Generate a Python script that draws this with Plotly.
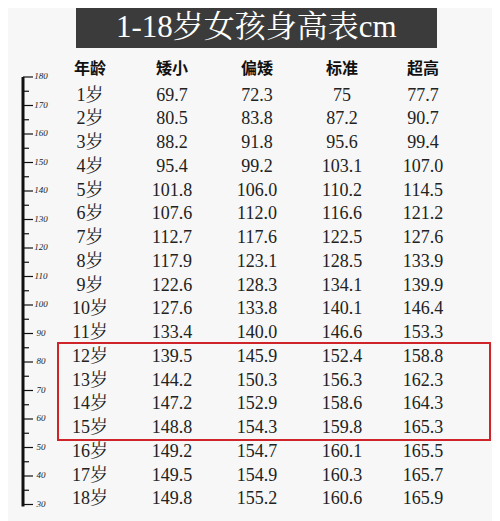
import plotly.graph_objects as go

title = "1-18岁女孩身高表cm"
headers = ["年龄", "矮小", "偏矮", "标准", "超高"]
ages = [f"{i}岁" for i in range(1, 19)]
short = ["69.7", "80.5", "88.2", "95.4", "101.8", "107.6", "112.7", "117.9", "122.6",
         "127.6", "133.4", "139.5", "144.2", "147.2", "148.8", "149.2", "149.5", "149.8"]
below = ["72.3", "83.8", "91.8", "99.2", "106.0", "112.0", "117.6", "123.1", "128.3",
         "133.8", "140.0", "145.9", "150.3", "152.9", "154.3", "154.7", "154.9", "155.2"]
standard = ["75", "87.2", "95.6", "103.1", "110.2", "116.6", "122.5", "128.5", "134.1",
            "140.1", "146.6", "152.4", "156.3", "158.6", "159.8", "160.1", "160.3", "160.6"]
tall = ["77.7", "90.7", "99.4", "107.0", "114.5", "121.2", "127.6", "133.9", "139.9",
        "146.4", "153.3", "158.8", "162.3", "164.3", "165.3", "165.5", "165.7", "165.9"]
ruler_labels = ["180", "170", "160", "150", "140", "130", "120", "110", "100",
                "90", "80", "70", "60", "50", "40", "30"]

col_x = [90, 172, 257, 342, 423]
header_y = 70
row_y0, row_dy = 96, 23.75
serif = "Liberation Serif, Noto Serif CJK SC, Noto Sans CJK SC, serif"

fig = go.Figure()
fig.add_trace(go.Scatter(x=col_x, y=[header_y]*5, text=["<b>%s</b>" % h for h in headers], mode="text",
                         textfont=dict(family="Noto Sans CJK SC", size=16, color="#111"),
                         hoverinfo="skip"))
cols = [ages, short, below, standard, tall]
for cx, col in zip(col_x, cols):
    ys = [row_y0 + i*row_dy for i in range(len(col))]
    fig.add_trace(go.Scatter(x=[cx]*len(col), y=ys, text=col, mode="text",
                             textfont=dict(family=serif, size=18, color="#222"),
                             hoverinfo="skip"))

r_top, r_dy = 77, 28.5
ry = [r_top + i*r_dy for i in range(len(ruler_labels))]
fig.add_trace(go.Scatter(x=[41]*len(ry), y=ry, text=["<i>%s</i>" % t for t in ruler_labels], mode="text",
                         textfont=dict(family=serif, size=9, color="#222"),
                         hoverinfo="skip"))
shapes = [dict(type="line", x0=23, x1=23, y0=r_top, y1=ry[-1]+2, line=dict(color="#111", width=3))]
for i, y in enumerate(ry):
    shapes.append(dict(type="line", x0=23, x1=33, y0=y, y1=y, line=dict(color="#111", width=1.2)))
    if i < len(ry)-1:
        shapes.append(dict(type="line", x0=23, x1=29, y0=y+r_dy/2, y1=y+r_dy/2, line=dict(color="#111", width=1.2)))
shapes.append(dict(type="rect", x0=76, x1=437, y0=4, y1=48, fillcolor="#3b3b3b", line=dict(width=0), layer="below"))
shapes.append(dict(type="rect", x0=58, x1=490, y0=343, y1=440, line=dict(color="#d0242b", width=2)))

fig.add_annotation(x=256, y=26, text=title, showarrow=False, xref="x", yref="y",
                   font=dict(family=serif, size=31, color="white"))

# offset compensates the page's 8px body margin
fig.update_layout(width=500, height=521, margin=dict(l=0, r=0, t=0, b=0),
                  paper_bgcolor="#f7f7f7", plot_bgcolor="#f7f7f7", showlegend=False,
                  shapes=shapes,
                  xaxis=dict(range=[8, 508], visible=False, fixedrange=True),
                  yaxis=dict(range=[529, 8], visible=False, fixedrange=True))
fig.write_html("out.html")
